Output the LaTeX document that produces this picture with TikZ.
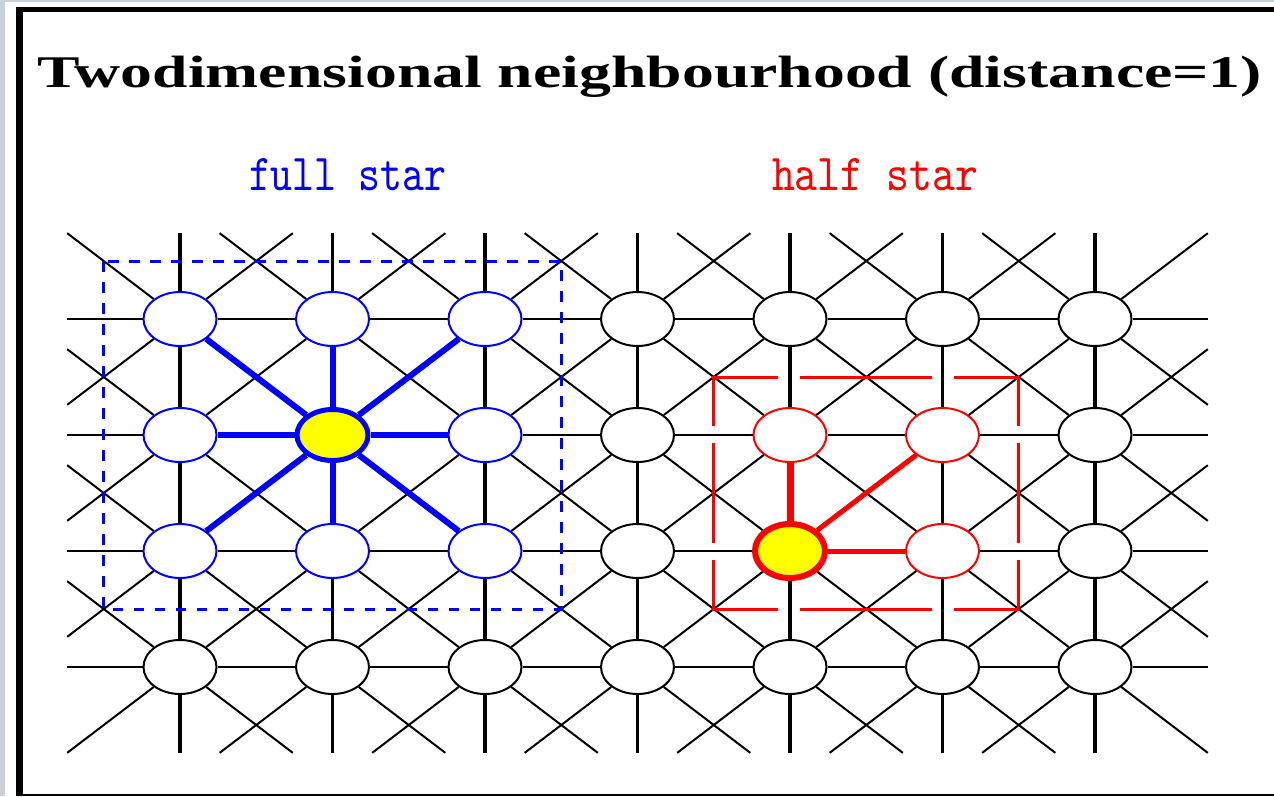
\documentclass[tikz,border=0pt]{standalone}
\usepackage{fontspec}
\usepackage{graphicx}
\usetikzlibrary{shapes.geometric}
\newfontfamily\titlefont{Liberation Serif}
\definecolor{framegray}{RGB}{200,210,218}
\definecolor{pblue}{RGB}{0,0,255}
\definecolor{pred}{RGB}{255,0,0}
\definecolor{pyellow}{RGB}{255,255,0}
\begin{document}
\begin{tikzpicture}[
  x=1pt,y=1pt,
  cell/.style={ellipse, draw=black, line width=2pt, fill=white, minimum width=73pt, minimum height=54pt, inner sep=0pt},
  bluecell/.style={cell, draw=pblue},
  redcell/.style={cell, draw=pred},
  bluecenter/.style={cell, draw=pblue, fill=pyellow, line width=5pt, minimum width=71pt, minimum height=51pt},
  redcenter/.style={cell, draw=pred, fill=pyellow, line width=6pt, minimum width=70pt, minimum height=54pt},
  hline/.style={line width=2.2pt, black},
  vline/.style={line width=3.2pt, black},
  dline/.style={line width=2pt, black},
  bluespoke/.style={line width=6pt, pblue},
  redspoke/.style={line width=#1, pred},
  bluebox/.style={line width=3pt, pblue, dash pattern=on 10.5pt off 10.5pt},
  redbox/.style={line width=3pt, pred, line join=miter},
  textlabel/.style={anchor=base west, inner sep=0pt, outer sep=0pt}
]
\useasboundingbox (0,0) rectangle (1274,-796);
% frame
\fill[white] (0,0) rectangle (1274,-796);
\fill[framegray] (0,0) rectangle (5,-796);
\fill[framegray] (0,0) rectangle (1274,-2);
\fill[black] (16,-7) rectangle (23,-796);
\fill[black] (16,-7) rectangle (1274,-12);
\fill[black] (16,-794) rectangle (1274,-796);
% texts
\node[textlabel] (title) at (37,-87) {\resizebox{1225pt}{\height}{\fontsize{45.3pt}{50pt}\titlefont\bfseries Twodimensional neighbourhood (distance=1)}};
\node[textlabel, text=pblue] (full) at (249,-190) {\resizebox{197pt}{32pt}{\ttfamily full star}};
\node[textlabel, text=pred] (half) at (772,-190) {\resizebox{206pt}{32pt}{\ttfamily half star}};
% grid
\begin{scope}[shift={(180pt,-319pt)}, x=152.5pt, y=-116pt]
\foreach \i in {0,...,6}{\foreach \j in {0,...,3}{
  \def\sty{cell}
  \ifnum\i<3 \ifnum\j<3 \def\sty{bluecell}\fi\fi
  \ifnum\i=1 \ifnum\j=1 \def\sty{bluecenter}\fi\fi
  \ifnum\i=4 \ifnum\j=1 \def\sty{redcell}\fi\ifnum\j=2 \def\sty{redcenter}\fi\fi
  \ifnum\i=5 \ifnum\j=1 \def\sty{redcell}\fi\ifnum\j=2 \def\sty{redcell}\fi\fi
  \node[\sty] (n-\i-\j) at (\i,\j) {};
}}
\foreach \i in {0,...,6}{\foreach \j in {0,...,3}{
  \foreach \dx/\dy/\st in {1/0/hline,-1/0/hline,0/1/vline,0/-1/vline,1/1/dline,1/-1/dline,-1/1/dline,-1/-1/dline}{
    \pgfmathtruncatemacro\ni{\i+\dx}
    \pgfmathtruncatemacro\nj{\j+\dy}
    \pgfmathtruncatemacro\inside{((\ni>-1)&&(\ni<7)&&(\nj>-1)&&(\nj<4))?1:0}
    \pgfmathtruncatemacro\fwd{((\dx>0)||((\dx==0)&&(\dy>0)))?1:0}
    \ifnum\inside=1
      \ifnum\fwd=1 \draw[\st] (n-\i-\j) -- (n-\ni-\nj);\fi
    \else
      \coordinate (e-\i-\j-\dx-\dy) at ({\i+0.74*\dx},{\j+0.74*\dy});
      \draw[\st] (n-\i-\j) -- (e-\i-\j-\dx-\dy);
    \fi
  }
}}
% full star spokes
\foreach \a/\b in {0/0,1/0,2/0,0/1,2/1,0/2,1/2,2/2}
  \draw[bluespoke] (n-1-1) -- (n-\a-\b);
% half star spokes
\draw[redspoke=7pt] (n-4-2) -- (n-4-1);
\draw[redspoke=5pt] (n-4-2) -- (n-5-1);
\draw[redspoke=5pt] (n-4-2) -- (n-5-2);
% dashed boxes
\draw[bluebox] (-0.5,-0.5) rectangle (2.5,2.5);
\draw[redbox] (3.924,0.5) -- (3.5,0.5) -- (3.5,0.924);
\draw[redbox] (5.076,0.5) -- (5.5,0.5) -- (5.5,0.924);
\draw[redbox] (3.924,2.5) -- (3.5,2.5) -- (3.5,2.076);
\draw[redbox] (5.076,2.5) -- (5.5,2.5) -- (5.5,2.076);
\draw[redbox] (4.066,0.5) -- (4.934,0.5);
\draw[redbox] (4.066,2.5) -- (4.934,2.5);
\draw[redbox] (3.5,1.066) -- (3.5,1.934);
\draw[redbox] (5.5,1.066) -- (5.5,1.934);
\end{scope}
\end{tikzpicture}
\end{document}
